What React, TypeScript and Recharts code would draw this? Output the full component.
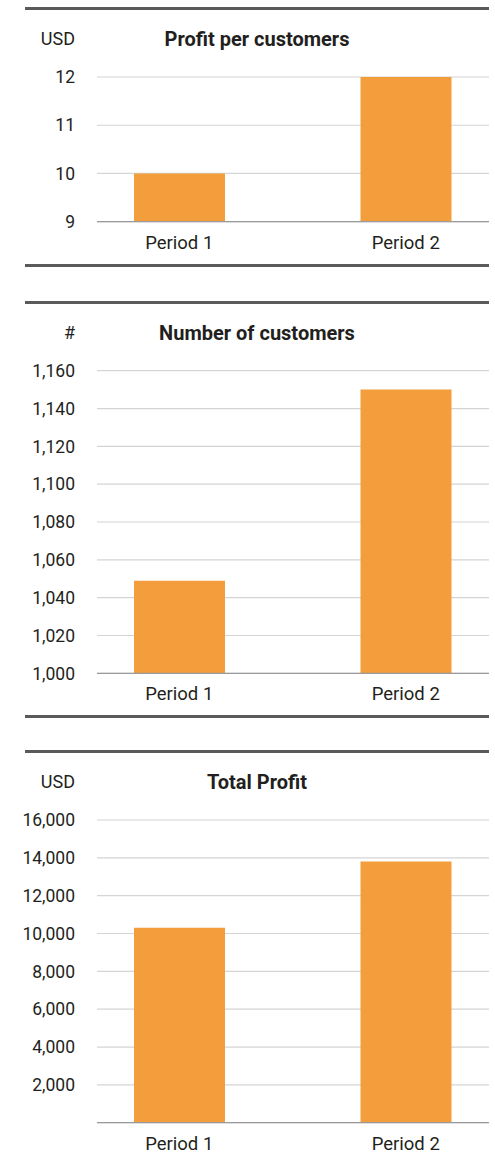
import React from 'react';
import { BarChart, Bar, XAxis, YAxis, CartesianGrid } from 'recharts';

const categories = ['Period 1', 'Period 2'];
const profitPerCustomer = [10, 12];
const customers = [1049, 1150];
const totalProfit = [10300, 13800];

const profitTicks = [9, 10, 11, 12];
const customerTicks = [1000, 1020, 1040, 1060, 1080, 1100, 1120, 1140, 1160];
const totalTicks = [2000, 4000, 6000, 8000, 10000, 12000, 14000, 16000];

const FONT = 'Roboto, "DejaVu Sans", sans-serif';
const TEXT = '#231f20';
const BAR = '#F39D3C';

const fmt = (v: number) => v.toLocaleString('en-US');

type BlockProps = {
  top: number;
  height: number;
  title: string;
  unit: string;
  values: number[];
  domain: [number, number];
  ticks: number[];
  bottomLine: boolean;
  plotTop: number;
  plotBottom: number;
};

function Block({ top, height, title, unit, values, domain, ticks, bottomLine, plotTop, plotBottom }: BlockProps) {
  const data = categories.map((c, i) => ({ name: c, value: values[i] }));
  const axisH = 30;
  const bottomMargin = height - plotBottom - axisH;
  return (
    <div style={{ position: 'absolute', left: 0, top, width: 495, height }}>
      <div style={{ position: 'absolute', left: 25, top: plotTop - 70, width: 464, height: 3, background: '#5a5a5a' }} />
      <div
        style={{
          position: 'absolute', right: 495 - 75, top: plotTop - 48, fontFamily: FONT, fontSize: 18,
          color: TEXT, lineHeight: '20px', whiteSpace: 'nowrap', textAlign: 'right',
        }}
      >
        {unit}
      </div>
      <div
        style={{
          position: 'absolute', left: 25, width: 464, top: plotTop - 48, fontFamily: FONT, fontSize: 20,
          fontWeight: 700, color: TEXT, lineHeight: '20px', textAlign: 'center', whiteSpace: 'nowrap',
        }}
      >
        {title}
      </div>
      {bottomLine && (
        <div style={{ position: 'absolute', left: 25, top: plotBottom + 42, width: 464, height: 3, background: '#5a5a5a' }} />
      )}
      <div style={{ position: 'absolute', left: 0, top: 0 }}>
        <BarChart
          width={495}
          height={height}
          data={data}
          margin={{ top: plotTop, right: 6, bottom: bottomMargin, left: 0 }}
        >
          <CartesianGrid vertical={false} stroke="#d4d4d4" strokeWidth={1.2} />
          <XAxis
            dataKey="name"
            height={axisH}
            tickLine={false}
            axisLine={{ stroke: '#9a9a9a', strokeWidth: 1.3 }}
            tickMargin={8}
            padding={{ left: -31, right: -30 }}
            tick={{ fill: TEXT, fontSize: 18.5, fontFamily: FONT }}
          />
          <YAxis
            width={97}
            domain={domain}
            ticks={ticks}
            interval={0}
            allowDataOverflow
            tickLine={false}
            axisLine={false}
            tickMargin={16}
            tickFormatter={fmt}
            tick={{ fill: TEXT, fontSize: 17.5, fontFamily: FONT }}
          />
          <Bar dataKey="value" fill={BAR} barSize={91} isAnimationActive={false} />
        </BarChart>
      </div>
    </div>
  );
}

export default function App() {
  return (
    <div style={{ position: 'absolute', left: 0, top: 0, width: 495, height: 1159, background: '#fff', overflow: 'hidden' }}>
      <Block
        top={0}
        height={280}
        title="Profit per customers"
        unit="USD"
        values={profitPerCustomer}
        domain={[9, 12]}
        ticks={profitTicks}
        bottomLine
        plotTop={77}
        plotBottom={221.7}
      />
      <Block
        top={280}
        height={450}
        title="Number of customers"
        unit="#"
        values={customers}
        domain={[1000, 1160]}
        ticks={customerTicks}
        bottomLine
        plotTop={90.7}
        plotBottom={393.3}
      />
      <Block
        top={730}
        height={429}
        title="Total Profit"
        unit="USD"
        values={totalProfit}
        domain={[0, 16000]}
        ticks={totalTicks}
        bottomLine={false}
        plotTop={90}
        plotBottom={392.7}
      />
    </div>
  );
}
